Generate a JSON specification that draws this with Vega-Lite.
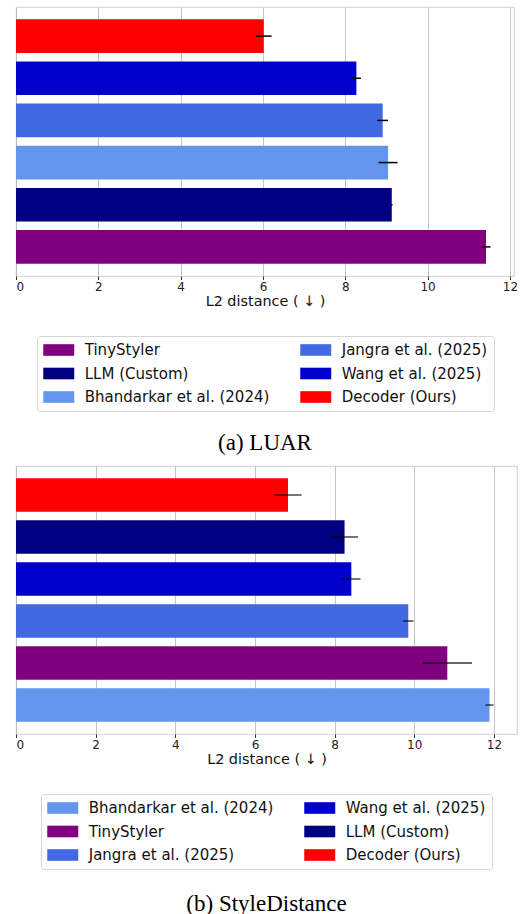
{
  "$schema": "https://vega.github.io/schema/vega-lite/v6.json",
  "padding": {"left": 14, "top": 6, "right": 5, "bottom": 2},
  "background": "white",
  "spacing": 9,
  "datasets": {
    "luar": [
      {"method": "Decoder (Ours)", "mean": 6.02, "err": 0.19},
      {"method": "Wang et al. (2025)", "mean": 8.27, "err": 0.11},
      {"method": "Jangra et al. (2025)", "mean": 8.91, "err": 0.13},
      {"method": "Bhandarkar et al. (2024)", "mean": 9.04, "err": 0.23},
      {"method": "LLM (Custom)", "mean": 9.13, "err": 0.02},
      {"method": "TinyStyler", "mean": 11.42, "err": 0.11}
    ],
    "styledistance": [
      {"method": "Decoder (Ours)", "mean": 6.83, "err": 0.34},
      {"method": "LLM (Custom)", "mean": 8.25, "err": 0.34},
      {"method": "Wang et al. (2025)", "mean": 8.42, "err": 0.23},
      {"method": "Jangra et al. (2025)", "mean": 9.85, "err": 0.13},
      {"method": "TinyStyler", "mean": 10.83, "err": 0.62},
      {"method": "Bhandarkar et al. (2024)", "mean": 11.89, "err": 0.1}
    ]
  },
  "resolve": {
    "scale": {"color": "independent", "x": "independent", "y": "independent"},
    "legend": {"color": "independent"}
  },
  "vconcat": [
    {
      "title": {"text": "(a) LUAR", "orient": "bottom", "offset": 20},
      "width": 498,
      "height": 269,
      "data": {"name": "luar"},
      "encoding": {
        "y": {
          "field": "method", "type": "nominal",
          "sort": ["Decoder (Ours)", "Wang et al. (2025)", "Jangra et al. (2025)", "Bhandarkar et al. (2024)", "LLM (Custom)", "TinyStyler"],
          "axis": null,
          "scale": {"paddingInner": 0.2, "paddingOuter": 0.29}
        },
        "x": {
          "field": "mean", "type": "quantitative",
          "scale": {"domain": [0, 12.1], "nice": false, "zero": false},
          "axis": {"values": [0, 2, 4, 6, 8, 10, 12], "title": "L2 distance ( ↓ )"}
        }
      },
      "layer": [
        {
          "mark": {"type": "bar"},
          "encoding": {
            "color": {
              "field": "method", "type": "nominal",
              "scale": {
                "domain": ["TinyStyler", "Jangra et al. (2025)", "LLM (Custom)", "Wang et al. (2025)", "Bhandarkar et al. (2024)", "Decoder (Ours)"],
                "range": ["#800080", "#4169E1", "#000080", "#0000CD", "#6495ED", "#FF0000"]
              },
              "legend": {"orient": "bottom", "columns": 2, "title": null, "offset": 28}
            }
          }
        },
        {
          "mark": {"type": "errorbar", "color": "black", "thickness": 1.5},
          "encoding": {"xError": {"field": "err"}}
        }
      ]
    },
    {
      "title": {"text": "(b) StyleDistance", "orient": "bottom", "offset": 23},
      "width": 501,
      "height": 268,
      "data": {"name": "styledistance"},
      "encoding": {
        "y": {
          "field": "method", "type": "nominal",
          "sort": ["Decoder (Ours)", "LLM (Custom)", "Wang et al. (2025)", "Jangra et al. (2025)", "TinyStyler", "Bhandarkar et al. (2024)"],
          "axis": null,
          "scale": {"paddingInner": 0.2, "paddingOuter": 0.29}
        },
        "x": {
          "field": "mean", "type": "quantitative",
          "scale": {"domain": [0, 12.58], "nice": false, "zero": false},
          "axis": {"values": [0, 2, 4, 6, 8, 10, 12], "title": "L2 distance ( ↓ )"}
        }
      },
      "layer": [
        {
          "mark": {"type": "bar"},
          "encoding": {
            "color": {
              "field": "method", "type": "nominal",
              "scale": {
                "domain": ["Bhandarkar et al. (2024)", "Wang et al. (2025)", "TinyStyler", "LLM (Custom)", "Jangra et al. (2025)", "Decoder (Ours)"],
                "range": ["#6495ED", "#0000CD", "#800080", "#000080", "#4169E1", "#FF0000"]
              },
              "legend": {"orient": "bottom", "columns": 2, "title": null, "offset": 28}
            }
          }
        },
        {
          "mark": {"type": "errorbar", "color": "black", "opacity": 0.6, "thickness": 1.8},
          "encoding": {"xError": {"field": "err"}}
        }
      ]
    }
  ],
  "config": {
    "font": "DejaVu Sans",
    "view": {"stroke": "#d9d9d9", "strokeWidth": 1.2},
    "title": {"font": "Liberation Serif", "fontSize": 23, "fontWeight": "normal", "color": "black", "anchor": "middle"},
    "axis": {
      "domain": false,
      "grid": true,
      "gridColor": "#b0b0b0",
      "gridOpacity": 0.75,
      "gridWidth": 1,
      "tickColor": "#333333",
      "tickSize": 3.5,
      "tickWidth": 1,
      "labelFont": "DejaVu Sans",
      "labelFontSize": 12,
      "labelColor": "#222222",
      "labelPadding": 2,
      "titleFont": "DejaVu Sans",
      "titleFontSize": 14.4,
      "titleFontWeight": "normal",
      "titleColor": "#111111",
      "titlePadding": 2,
      "zindex": 1
    },
    "legend": {
      "labelFont": "DejaVu Sans",
      "labelFontSize": 15,
      "labelColor": "#111111",
      "labelOffset": 18,
      "labelLimit": 400,
      "symbolType": "M-2,-0.75H2V0.75H-2Z",
      "symbolSize": 240,
      "symbolOffset": 7.75,
      "symbolStrokeWidth": 0,
      "symbolOpacity": 1,
      "columnPadding": 30,
      "rowPadding": 7.5,
      "padding": 6,
      "strokeColor": "#d6d6d6",
      "fillColor": "white",
      "cornerRadius": 3,
      "layout": {"bottom": {"anchor": "middle"}}
    }
  }
}
